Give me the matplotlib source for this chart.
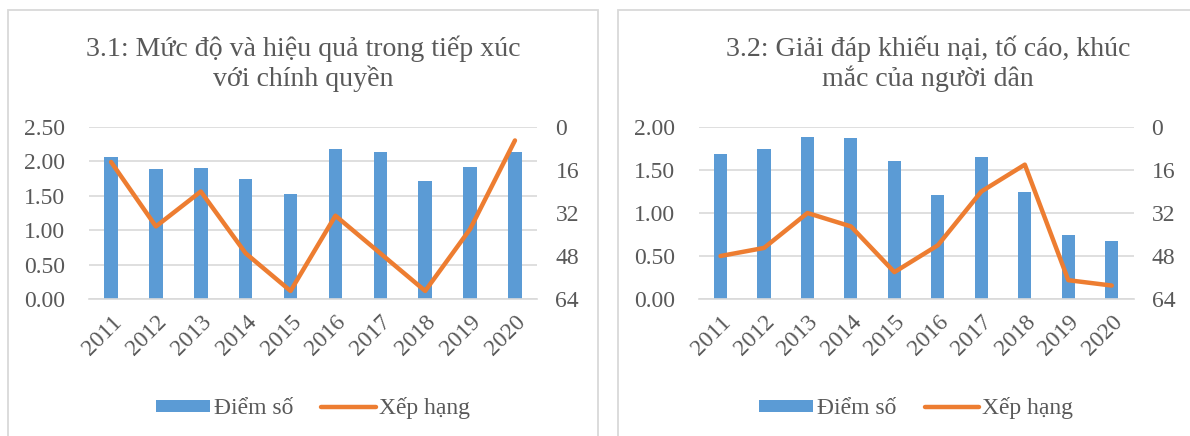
import matplotlib
matplotlib.use("Agg")
import matplotlib.pyplot as plt
from matplotlib.patches import Rectangle
from matplotlib.ticker import FormatStrFormatter

plt.rcParams['font.family'] = ['Liberation Serif', 'DejaVu Serif']

years = ['2011', '2012', '2013', '2014', '2015', '2016', '2017', '2018', '2019', '2020']

title_31 = "3.1: Mức độ và hiệu quả trong tiếp xúc\nvới chính quyền"
score_31 = [2.06, 1.89, 1.91, 1.74, 1.52, 2.18, 2.13, 1.71, 1.92, 2.14]
rank_31 = [13, 37, 24, 47, 61, 33, 47, 61, 38, 5]

title_32 = "3.2: Giải đáp khiếu nại, tố cáo, khúc\nmắc của người dân"
score_32 = [1.69, 1.75, 1.88, 1.87, 1.60, 1.21, 1.65, 1.25, 0.74, 0.67]
rank_32 = [48, 45, 32, 37, 54, 44, 24, 14, 57, 59]

score_label = "Điểm số"
rank_label = "Xếp hạng"

BLUE = '#5B9BD5'
ORANGE = '#ED7D31'
GRID = '#D9D9D9'
TEXT = '#595959'
FS = 17

W, H = 1190, 436
fig = plt.figure(figsize=(W / 100, H / 100), dpi=100)
fig.patch.set_facecolor('white')


def px_rect(x0, x1, y_top, y_bot):
    return [x0 / W, 1 - y_bot / H, (x1 - x0) / W, (y_bot - y_top) / H]


def panel(ax_box, title, title_x, scores, ranks, ymax):
    ax = fig.add_axes(ax_box)
    x = list(range(len(years)))
    bars = ax.bar(x, scores, width=0.3, color=BLUE, zorder=2, label=score_label)
    ax.set_xlim(-0.5, len(years) - 0.5)
    ax.set_ylim(0, ymax)
    ax.set_yticks([i * 0.5 for i in range(int(ymax / 0.5) + 1)])
    ax.yaxis.set_major_formatter(FormatStrFormatter('%.2f'))
    ax.grid(axis='y', color=GRID, linewidth=1.2, zorder=0)
    ax.set_axisbelow(True)
    for s in ['top', 'left', 'right']:
        ax.spines[s].set_visible(False)
    ax.spines['bottom'].set_color(GRID)
    ax.spines['bottom'].set_linewidth(1.2)
    ax.set_xticks(x)
    ax.set_xticklabels(years, rotation=45, ha='right', rotation_mode='anchor')
    ax.tick_params(axis='x', length=0, pad=9, labelsize=FS, colors=TEXT)
    ax.tick_params(axis='y', length=0, pad=17, labelsize=FS, colors=TEXT)

    ax2 = ax.twinx()
    line, = ax2.plot(x, ranks, color=ORANGE, linewidth=3.2,
                     solid_joinstyle='round', solid_capstyle='round',
                     zorder=3, label=rank_label)
    ax2.set_ylim(64, 0)
    ax2.set_yticks([0, 16, 32, 48, 64])
    for s in ax2.spines.values():
        s.set_visible(False)
    ax2.tick_params(axis='y', length=0, pad=13, labelsize=FS, colors=TEXT)

    ax.legend([bars, line], [score_label, rank_label], loc='center',
              bbox_to_anchor=(0.5, -0.635), ncol=2, frameon=False,
              fontsize=FS, handlelength=2.3, handleheight=0.4,
              handletextpad=0.15, columnspacing=1.2, labelcolor=TEXT)

    fig.text(title_x / W, 1 - 64 / H, title, ha='center', va='center',
             fontsize=20.1, color=TEXT, linespacing=1.15)
    return ax


# panel frames
fig.add_artist(Rectangle((8 / W, -0.05), (598 - 8) / W, 1.05 - 10 / H,
                         transform=fig.transFigure, fill=False,
                         edgecolor=GRID, linewidth=1.3, clip_on=False))
fig.add_artist(Rectangle((618 / W, -0.05), 0.6, 1.05 - 10 / H,
                         transform=fig.transFigure, fill=False,
                         edgecolor=GRID, linewidth=1.3, clip_on=False))

panel(px_rect(88.6, 537.4, 127, 299), title_31, 303, score_31, rank_31, 2.5)
panel(px_rect(698.8, 1133.5, 127, 299), title_32, 928, score_32, rank_32, 2.0)

fig.savefig('out.png', dpi=100, facecolor='white')
